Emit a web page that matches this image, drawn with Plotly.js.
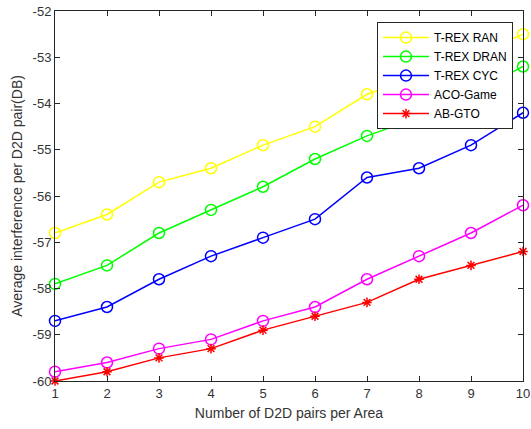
<!DOCTYPE html>
<html><head><meta charset="utf-8">
<script src="https://cdn.plot.ly/plotly-3.0.1.min.js"></script>
<style>html,body{margin:0;padding:0;background:#fff;}#chart{width:531px;height:429px;}</style>
</head><body><div id="chart"></div>
<script>
const xValues = [1, 2, 3, 4, 5, 6, 7, 8, 9, 10];
const trexRan  = [-56.8, -56.4, -55.7, -55.4, -54.9, -54.5, -53.8, -53.4, -53.0, -52.5];
const trexDran = [-57.9, -57.5, -56.8, -56.3, -55.8, -55.2, -54.7, -54.3, -53.8, -53.2];
const trexCyc  = [-58.7, -58.4, -57.8, -57.3, -56.9, -56.5, -55.6, -55.4, -54.9, -54.2];
const acoGame  = [-59.8, -59.6, -59.3, -59.1, -58.7, -58.4, -57.8, -57.3, -56.8, -56.2];
const abGto    = [-60.0, -59.8, -59.5, -59.3, -58.9, -58.6, -58.3, -57.8, -57.5, -57.2];
const seriesNames = ['T-REX RAN', 'T-REX DRAN', 'T-REX CYC', 'ACO-Game', 'AB-GTO'];
const yTickVals = [-60, -59, -58, -57, -56, -55, -54, -53, -52];

const colors = ['#ffff00', '#00ff00', '#0000ff', '#ff00ff', '#ff0000'];
const symbols = ['circle-open', 'circle-open', 'circle-open', 'circle-open', 'asterisk-open'];
const allY = [trexRan, trexDran, trexCyc, acoGame, abGto];

const traces = allY.map((ys, i) => ({
  x: xValues, y: ys, name: seriesNames[i], type: 'scatter', mode: 'lines+markers',
  line: {color: colors[i], width: 1.5},
  marker: {symbol: symbols[i], size: i === 4 ? 8 : 11, color: colors[i], line: {color: colors[i], width: 1.5}},
  cliponaxis: false
}));

const axisCommon = {
  showline: true, linecolor: '#262626', linewidth: 1, mirror: 'allticks',
  ticks: 'inside', ticklen: 5, tickcolor: '#262626', showgrid: false, zeroline: false,
  tickfont: {family: 'Liberation Sans, Arial, sans-serif', size: 13, color: '#333'}
};

const layout = {
  width: 531, height: 429,
  margin: {l: 55, r: 8, t: 11, b: 48},
  paper_bgcolor: '#fff', plot_bgcolor: '#fff',
  showlegend: true,
  xaxis: Object.assign({}, axisCommon, {
    range: [1, 10], tickvals: xValues, ticktext: xValues.map(String),
    title: {text: 'Number of D2D pairs per Area', font: {family: 'Liberation Sans, Arial, sans-serif', size: 14, color: '#333'}, standoff: 8}
  }),
  yaxis: Object.assign({}, axisCommon, {
    range: [-60, -52], tickvals: yTickVals, ticktext: yTickVals.map(String),
    title: {text: 'Average interference per D2D pair(DB)', font: {family: 'Liberation Sans, Arial, sans-serif', size: 14, color: '#333'}, standoff: 6}
  }),
  legend: {
    x: 0.688, y: 0.97, xanchor: 'left', yanchor: 'top',
    bgcolor: '#fff', bordercolor: '#262626', borderwidth: 1,
    font: {family: 'Liberation Sans, Arial, sans-serif', size: 12, color: '#000'},
    tracegroupgap: 0, itemwidth: 46
  }
};

Plotly.newPlot('chart', traces, layout, {displayModeBar: false, staticPlot: true});
</script></body></html>
